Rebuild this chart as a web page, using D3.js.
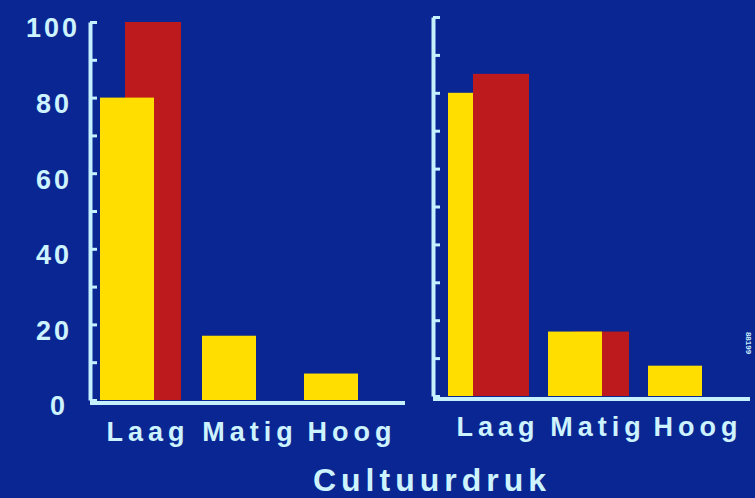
<!DOCTYPE html>
<html>
<head>
<meta charset="utf-8">
<script src="https://cdn.jsdelivr.net/npm/d3@7"></script>
<style>
  html, body { margin: 0; padding: 0; background: #0a2693; }
  svg { display: block; }
  text { font-family: "Liberation Sans", Arial, sans-serif; font-weight: bold; fill: #cdf3ff; }
</style>
</head>
<body>
<script>
// chart values
let categories = ["Laag", "Matig", "Hoog"];
let leftYellow = [80, 17, 7];
let leftRed = [100, 0, 0];
let rightYellow = [80, 17, 8];
let rightRed = [85, 17, 0];
let yTicks = [0, 10, 20, 30, 40, 50, 60, 70, 80, 90, 100];
let yLabels = [0, 20, 40, 60, 80, 100];
let xTitle = "Cultuurdruk";

let width = 755;
let height = 498;
let axisColor = "#c4f0ff";
let yellow = "#ffde00";
let red = "#bc1a1c";

let svg = d3
  .select("body")
  .append("svg")
  .attr("width", width)
  .attr("height", height);

svg.append("rect").attr("width", width).attr("height", height).attr("fill", "#0a2693");

// one panel: y axis at axisX, bars in band range, front = which series sits on top
function drawPanel(opts) {
  let y = d3.scaleLinear().domain([0, 100]).range([opts.y0, opts.y100]);
  let x = d3.scaleBand().domain(categories).range(opts.band).padding(0);

  let g = svg.append("g");

  categories.forEach((c, i) => {
    let yb = { v: opts.yellow[i], off: 10, w: 54, color: yellow };
    let rb = { v: opts.red[i], off: 35, w: 56, color: red };
    let order = opts.front[i] === "red" ? [yb, rb] : [rb, yb];
    order.forEach(b => {
      if (!b.v) return;
      g.append("rect")
        .attr("x", x(c) + b.off)
        .attr("y", y(b.v))
        .attr("width", b.w)
        .attr("height", y(0) - y(b.v))
        .attr("fill", b.color);
    });
  });

  // y axis, ticks pointing inward
  let axis = d3
    .axisLeft(y)
    .tickValues(yTicks)
    .tickSizeInner(-7)
    .tickSizeOuter(0)
    .tickPadding(18)
    .tickFormat(d => (opts.labels && yLabels.includes(d) ? d : ""));

  let ag = g
    .append("g")
    .attr("transform", "translate(" + opts.axisX + ",0)")
    .call(axis);
  ag.select(".domain").attr("stroke", axisColor).attr("stroke-width", 4);
  ag.selectAll(".tick line").attr("stroke", axisColor).attr("stroke-width", 3);
  ag.selectAll(".tick text")
    .attr("fill", "#cdf3ff")
    .attr("font-size", 27)
    .attr("letter-spacing", 3)
    .attr("dy", "0.55em")
    .style("font-family", '"Liberation Sans", Arial, sans-serif');
  ag.selectAll(".tick text").filter(d => d === 100).attr("dx", 8);
  ag.selectAll(".tick text").filter(d => d === 0).attr("dx", -4);

  // x axis line
  g.append("line")
    .attr("x1", opts.axisX)
    .attr("x2", opts.xEnd)
    .attr("y1", y(0) + 3)
    .attr("y2", y(0) + 3)
    .attr("stroke", axisColor)
    .attr("stroke-width", 4);

  // category labels
  g.selectAll(".cat")
    .data(categories)
    .join("text")
    .attr("class", "cat")
    .attr("x", d => x(d) + x.bandwidth() / 2 + opts.labelShift)
    .attr("y", opts.labelY)
    .attr("text-anchor", "middle")
    .attr("font-size", 27)
    .attr("letter-spacing", 5)
    .text(d => d);
}

drawPanel({
  axisX: 90,
  y0: 400,
  y100: 22,
  band: [90, 396],
  xEnd: 405,
  yellow: leftYellow,
  red: leftRed,
  front: ["yellow", "yellow", "yellow"],
  labels: true,
  labelY: 441,
  labelShift: 7
});

drawPanel({
  axisX: 433,
  y0: 396,
  y100: 17,
  band: [438, 738],
  xEnd: 750,
  yellow: rightYellow,
  red: rightRed,
  front: ["red", "yellow", "yellow"],
  labels: false,
  labelY: 436,
  labelShift: 10
});

svg.append("text")
  .attr("x", 432)
  .attr("y", 491)
  .attr("text-anchor", "middle")
  .attr("font-size", 32)
  .attr("letter-spacing", 5)
  .text(xTitle);

// slide number, rotated
svg.append("text")
  .attr("transform", "translate(746,343) rotate(90)")
  .attr("text-anchor", "middle")
  .attr("font-size", 8)
  .text("88199");
</script>
</body>
</html>
